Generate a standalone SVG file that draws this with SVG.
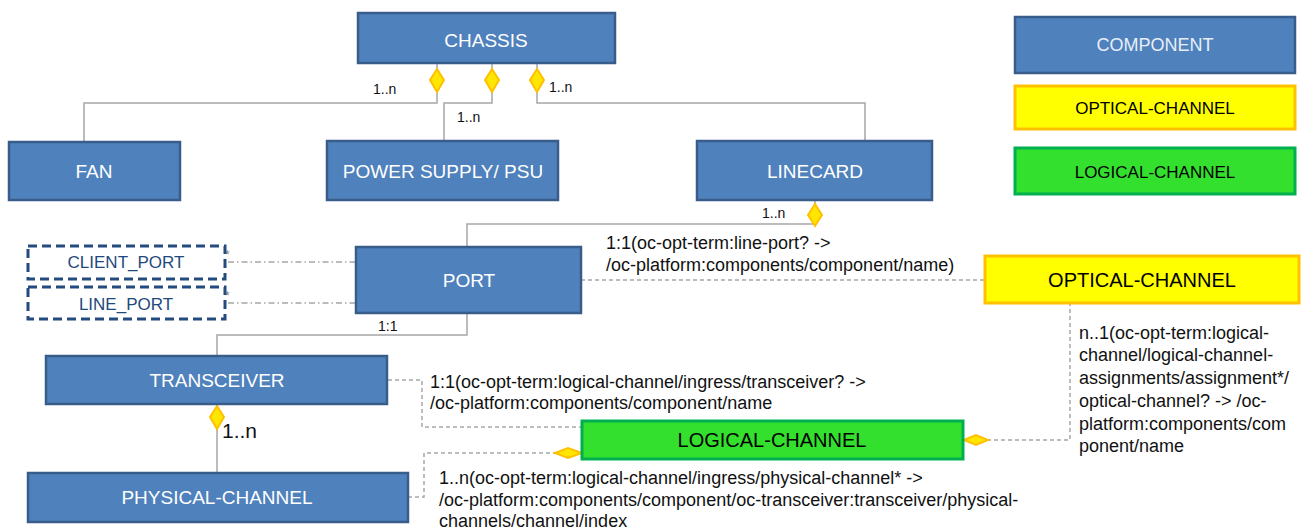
<svg xmlns="http://www.w3.org/2000/svg" width="1301" height="529" viewBox="0 0 1301 529">
<style>
text{font-family:"Liberation Sans",Arial,sans-serif}
.comp{fill:#4F81BD;stroke:#385D8A;stroke-width:2.5}
.ctext{fill:#FFFFFF;font-size:19px;text-anchor:middle}
.dash{fill:#FFFFFF;stroke:#244B7F;stroke-width:3;stroke-dasharray:9,5}
.dtext{fill:#1F497D;font-size:17px;text-anchor:middle}
.opt{fill:#FFFF00;stroke:#FFC000;stroke-width:3}
.log{fill:#33E02D;stroke:#00B050;stroke-width:3}
.btext{fill:#000000;font-size:20px;text-anchor:middle}
.solid{fill:none;stroke:#A6A6A6;stroke-width:1.5}
.dashed{fill:none;stroke:#A6A6A6;stroke-width:1.5;stroke-dasharray:4,3}
.dashdot{fill:none;stroke:#A6A6A6;stroke-width:1.5;stroke-dasharray:6,3,1.5,3}
.dia{fill:#FFE600;stroke:#FFC000;stroke-width:2}
.lbl{fill:#111111;font-size:14px}
.ann{fill:#111111;font-size:18px}
</style>

<g id="connectors">
  <path class="solid" d="M437,63 V103 H84 V142"/>
  <path class="solid" d="M492,63 V103 H444 V141"/>
  <path class="solid" d="M537,63 V103 H865 V141"/>
  <path class="solid" d="M815,200 V224 H467 V247"/>
  <path class="solid" d="M467,313 V335 H217 V356"/>
  <path class="solid" d="M217,404 V473"/>
  <path class="dashed" d="M581,280 H984"/>
  <path class="dashdot" d="M228,262 H356"/>
  <path class="dashdot" d="M228,303 H356"/>
  <path class="dashed" d="M388,380 H422 V427 H582"/>
  <path class="dashed" d="M408,497 H424 V453 H555"/>
  <path class="dashed" d="M987,440 H1070 V303"/>
  <polygon class="dia" points="437,69 444,80 437,92 430,80"/>
  <polygon class="dia" points="492,69 499,80 492,92 485,80"/>
  <polygon class="dia" points="537,69 544,80 537,92 530,80"/>
  <polygon class="dia" points="815,204 822,215 815,226 808,215"/>
  <polygon class="dia" points="217,406 224,417 217,429 210,417"/>
  <polygon class="dia" points="555,453 568,448 582,453 568,458"/>
  <polygon class="dia" points="964,440 976,435 988,440 976,445"/>
  <text class="lbl" x="373" y="94">1..n</text>
  <text class="lbl" x="457" y="122">1..n</text>
  <text class="lbl" x="549" y="92">1..n</text>
  <text class="lbl" x="762" y="218">1..n</text>
  <text class="lbl" x="378" y="331">1:1</text>
  <text x="222" y="438" style="font-size:21px;fill:#111111">1..n</text>
  <text x="225" y="259" style="font-size:12px;fill:#7F7F7F">*</text>
  <text x="225" y="300" style="font-size:12px;fill:#7F7F7F">*</text>
  <text class="ann" x="606" y="249">1:1(oc-opt-term:line-port? -&gt;</text>
  <text class="ann" x="606" y="271">/oc-platform:components/component/name)</text>
  <text class="ann" x="430" y="388">1:1(oc-opt-term:logical-channel/ingress/transceiver? -&gt;</text>
  <text class="ann" x="430" y="409">/oc-platform:components/component/name</text>
  <text class="ann" x="439" y="484">1..n(oc-opt-term:logical-channel/ingress/physical-channel* -&gt;</text>
  <text class="ann" x="439" y="506">/oc-platform:components/component/oc-transceiver:transceiver/physical-</text>
  <text class="ann" x="439" y="527">channels/channel/index</text>
  <text class="ann" x="1079" y="339">n..1(oc-opt-term:logical-</text>
  <text class="ann" x="1079" y="361">channel/logical-channel-</text>
  <text class="ann" x="1079" y="384">assignments/assignment*/</text>
  <text class="ann" x="1079" y="407">optical-channel? -&gt; /oc-</text>
  <text class="ann" x="1079" y="430">platform:components/com</text>
  <text class="ann" x="1079" y="452">ponent/name</text>
</g>

<g id="chassis"><rect class="comp" x="358" y="13" width="257" height="50"/><text class="ctext" x="486" y="47">CHASSIS</text></g>
<g id="fan"><rect class="comp" x="9" y="142" width="171" height="58"/><text class="ctext" x="94" y="178">FAN</text></g>
<g id="psu"><rect class="comp" x="327" y="141" width="231" height="59"/><text class="ctext" x="443" y="178">POWER SUPPLY/ PSU</text></g>
<g id="linecard"><rect class="comp" x="697" y="141" width="235" height="59"/><text class="ctext" x="815" y="178">LINECARD</text></g>
<g id="port"><rect class="comp" x="356" y="247" width="225" height="66"/><text class="ctext" x="469" y="287">PORT</text></g>
<g id="client_port"><rect class="dash" x="28" y="246" width="197" height="33"/><text class="dtext" x="126" y="268">CLIENT_PORT</text></g>
<g id="line_port"><rect class="dash" x="28" y="287" width="197" height="32"/><text class="dtext" x="126" y="310">LINE_PORT</text></g>
<g id="transceiver"><rect class="comp" x="46" y="356" width="341" height="48"/><text class="ctext" x="217" y="387">TRANSCEIVER</text></g>
<g id="physical_channel"><rect class="comp" x="28" y="473" width="380" height="49"/><text class="ctext" x="217" y="504">PHYSICAL-CHANNEL</text></g>
<g id="optical_channel"><rect class="opt" x="985" y="256" width="314" height="47"/><text class="btext" x="1142" y="287">OPTICAL-CHANNEL</text></g>
<g id="logical_channel"><rect class="log" x="582" y="421" width="381" height="38"/><text class="btext" x="772" y="447">LOGICAL-CHANNEL</text></g>
<g id="legend_component"><rect class="comp" x="1015" y="17" width="280" height="56"/><text class="ctext" x="1155" y="51" style="font-size:18px;fill:#E8EEF8">COMPONENT</text></g>
<g id="legend_optical"><rect class="opt" x="1015" y="86" width="280" height="43"/><text class="btext" x="1155" y="114" style="font-size:17px">OPTICAL-CHANNEL</text></g>
<g id="legend_logical"><rect class="log" x="1015" y="148" width="280" height="46"/><text class="btext" x="1155" y="178" style="font-size:17px">LOGICAL-CHANNEL</text></g>
</svg>
